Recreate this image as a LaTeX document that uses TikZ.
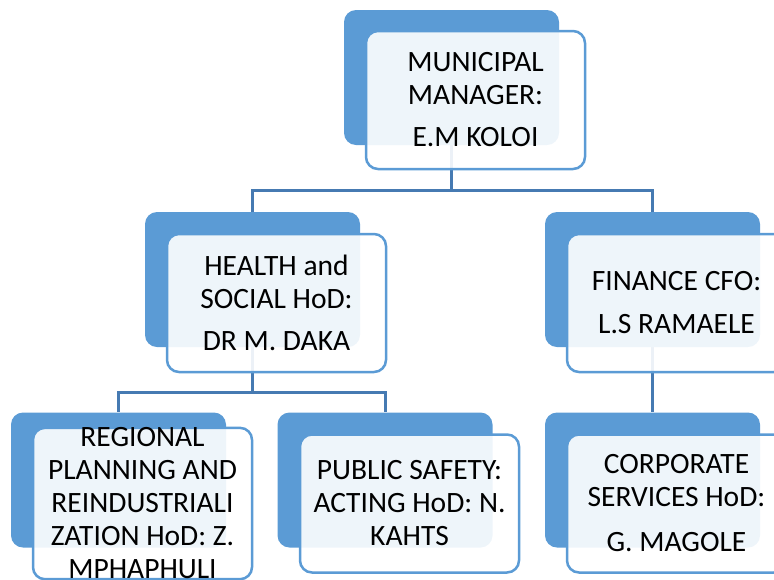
\documentclass[tikz,border=0pt]{standalone}
\usepackage{fontspec}
\setmainfont{Carlito}
\usetikzlibrary{backgrounds}
\definecolor{smblue}{RGB}{91,155,213}
\definecolor{lnblue}{RGB}{70,122,178}

\begin{document}
\begin{tikzpicture}[x=1pt, y=-1pt,
    back/.style = {fill=smblue, rounded corners=12pt, minimum width=215pt, minimum height=135pt},
    front/.style = {draw=smblue, line width=2.5pt, fill=white, fill opacity=0.9, text opacity=1,
      rounded corners=12pt, minimum width=219pt, minimum height=138pt, inner sep=0pt,
      align=center, font=\fontsize{29.5}{33}\selectfont},
    link/.style = {draw=lnblue, line width=3pt}]
        \useasboundingbox (0,0) rectangle (774,579);
        % top
        \node[back] (mgrb) at (451.5,77.5) {};
        \node[front] (mgr) at (475.5,100) {MUNICIPAL\\MANAGER:\\[9pt]E.M KOLOI};
        % second row
        \node[back] (hlthb) at (252.5,279.5) {};
        \node[front] (hlth) at (276.5,303) {HEALTH and\\SOCIAL HoD:\\[9pt]DR M. DAKA};
        \node[back] (finb) at (652.5,279.5) {};
        \node[front] (fin) at (676.5,303) {FINANCE CFO:\\[10pt]L.S RAMAELE};
        % third row
        \node[back] (regb) at (118.5,480) {};
        \node[front] (reg) at (142.5,503.5) {REGIONAL\\PLANNING AND\\REINDUSTRIALI\\ZATION HoD: Z.\\MPHAPHULI};
        \node[back] (pubb) at (385,480) {};
        \node[front] (pub) at (409.5,503.5) {PUBLIC SAFETY:\\ACTING HoD: N.\\KAHTS};
        \node[back] (corpb) at (652.5,480) {};
        \node[front] (corp) at (676.5,503.5) {CORPORATE\\SERVICES HoD:\\[12pt]G. MAGOLE};
        % connectors
        \begin{scope}[on background layer]
            \draw[link] (mgrb.south) -- ++(0,45) -| (hlthb.north);
            \draw[link] (mgrb.south) -- ++(0,45) -| (finb.north);
            \draw[link] (hlthb.south) -- ++(0,45) -| (regb.north);
            \draw[link] (hlthb.south) -- ++(0,45) -| (pubb.north);
            \draw[link] (finb.south) -- (corpb.north);
        \end{scope}
\end{tikzpicture}
\end{document}
